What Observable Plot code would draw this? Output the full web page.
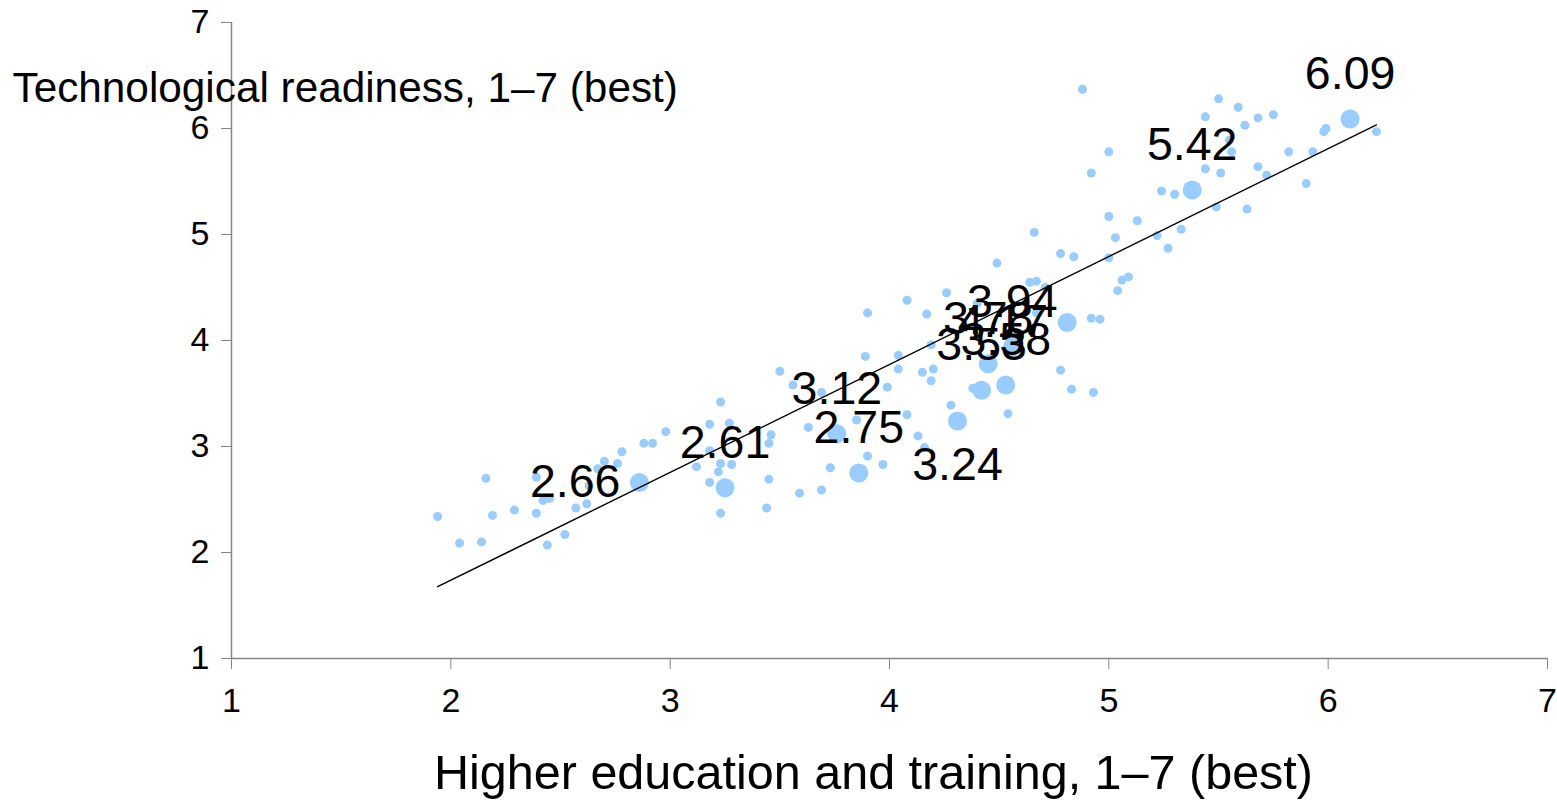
<!DOCTYPE html>
<html>
<head>
<meta charset="utf-8">
<script src="https://cdn.jsdelivr.net/npm/d3@7"></script>
<script src="https://cdn.jsdelivr.net/npm/@observablehq/plot@0.6"></script>
<style>
  html, body { margin: 0; padding: 0; background: #fff; }
  svg { display: block; }
</style>
</head>
<body>
<div id="chart"></div>
<script>
// ---------- data ----------
const xTicks = [1, 2, 3, 4, 5, 6, 7];
const yTicks = [1, 2, 3, 4, 5, 6, 7];
const xTitle = "Higher education and training, 1–7 (best)";
const yTitle = "Technological readiness, 1–7 (best)";

// all economies (small dots)
const smallX = [1.94,2.16,2.04,2.14,2.19,2.29,2.39,2.39,2.42,2.45,2.44,2.52,2.57,2.62,2.63,2.67,2.70,2.76,2.78,2.88,
  2.92,2.98,3.23,3.18,3.27,3.46,3.45,3.63,3.18,3.12,3.23,3.28,3.22,3.18,3.45,3.23,3.44,3.59,3.69,3.56,
  3.50,3.69,3.89,3.85,3.90,3.73,
  4.66,4.78,4.84,4.49,4.26,4.08,3.90,4.17,4.40,4.64,4.67,4.71,4.92,4.96,4.04,4.04,4.19,4.15,4.20,4.19,
  3.99,4.38,4.78,4.83,4.93,4.28,4.54,4.08,4.13,4.16,3.97,5.00,5.04,4.62,4.67,
  4.88,5.50,5.59,5.44,5.00,4.92,5.55,5.56,5.44,5.51,5.24,5.30,5.49,5.00,5.13,5.33,5.03,5.22,5.27,5.09,
  5.06,5.68,5.75,5.62,5.99,5.98,6.22,5.82,5.93,5.68,5.72,5.90,5.63];
const smallY = [2.34,2.70,2.09,2.10,2.35,2.40,2.71,2.37,2.49,2.51,2.07,2.17,2.42,2.46,2.63,2.79,2.86,2.84,2.95,3.03,
  3.03,3.14,3.42,3.21,3.22,3.11,3.03,3.18,2.96,2.81,2.84,2.83,2.76,2.66,2.69,2.37,2.42,2.56,2.59,3.58,
  3.71,3.51,3.85,3.25,2.91,2.80,
  5.02,4.82,4.79,4.73,4.45,4.38,4.26,4.25,4.35,4.55,4.56,4.50,4.21,4.20,3.86,3.73,3.96,3.70,3.73,3.62,
  3.56,3.55,3.72,3.54,3.51,3.39,3.31,3.30,3.10,2.99,2.83,4.78,4.47,4.36,4.26,
  6.37,6.28,6.20,6.11,5.78,5.58,5.89,5.78,5.62,5.58,5.41,5.38,5.26,5.17,5.13,5.05,4.97,4.99,4.87,4.60,
  4.57,6.10,6.13,6.03,6.00,5.97,5.97,5.78,5.78,5.64,5.56,5.48,5.24];

// highlighted economies (large dots with value labels)
const bigX = [2.86, 3.25, 3.76, 3.86, 4.31, 4.45, 4.42, 4.53, 4.56, 4.81, 5.38, 6.10];
const bigY = [2.66, 2.61, 3.12, 2.75, 3.24, 3.78, 3.53, 3.58, 3.94, 4.17, 5.42, 6.09];
const bigLabels = ["2.66", "2.61", "3.12", "2.75", "3.24", "3.78", "3.53", "3.58", "3.94", "4.17", "5.42", "6.09"];

// ---------- build tables ----------
const small = smallX.map((x, i) => ({x, y: smallY[i]}));
const big = bigX.map((x, i) => ({x, y: bigY[i], label: bigLabels[i]}));
const all = small.concat(big);

// label placement (layout, not data)
const placeLeft = new Set(["2.66", "4.17"]);
const placeBelow = new Set(["3.24"]);
const above = big.filter(d => !placeLeft.has(d.label) && !placeBelow.has(d.label));
const left = big.filter(d => placeLeft.has(d.label));
const below = big.filter(d => placeBelow.has(d.label));

const axisGray = "#868686";
const dotBlue = "#99ccff";
const font = "'Liberation Sans', Arial, Helvetica, sans-serif";

const chart = Plot.plot({
  width: 1557,
  height: 801,
  marginLeft: 231,
  marginRight: 10,
  marginTop: 22,
  marginBottom: 143,
  style: {fontFamily: font, background: "#fff", color: "#000"},
  x: {domain: [1, 7]},
  y: {domain: [1, 7]},
  marks: [
    Plot.ruleX([1], {stroke: axisGray, strokeWidth: 1.5}),
    Plot.ruleY([1], {stroke: axisGray, strokeWidth: 1.5}),
    Plot.axisX({ticks: xTicks, tickSize: 11, tickPadding: 18, fontSize: 34, stroke: axisGray, fill: "#000", label: null, tickFormat: d => String(d)}),
    Plot.axisY({ticks: yTicks, tickSize: 10, tickPadding: 12, fontSize: 34, stroke: axisGray, fill: "#000", label: null, tickFormat: d => String(d)}),
    Plot.dot(small, {x: "x", y: "y", r: 4.5, fill: dotBlue}),
    Plot.dot(big, {x: "x", y: "y", r: 9.5, fill: dotBlue}),
    Plot.linearRegressionY(all, {x: "x", y: "y", stroke: "#000", strokeWidth: 1.4, ci: 0}),
    Plot.text(above, {x: "x", y: "y", text: "label", fontSize: 46.5, dy: -45, lineAnchor: "middle", fill: "#000"}),
    Plot.text(below, {x: "x", y: "y", text: "label", fontSize: 46.5, dy: 44, lineAnchor: "middle", fill: "#000"}),
    Plot.text(left, {x: "x", y: "y", text: "label", fontSize: 46.5, dx: -19, textAnchor: "end", lineAnchor: "middle", fill: "#000"}),
    Plot.text([yTitle], {text: d => d, frameAnchor: "top-left", dx: -219, dy: 66, textAnchor: "start", lineAnchor: "middle", fontSize: 42.3, fill: "#000"}),
    Plot.text([xTitle], {text: d => d, frameAnchor: "bottom", dx: -16, dy: 115, textAnchor: "middle", lineAnchor: "middle", fontSize: 48.5, fill: "#000"})
  ]
});
document.getElementById("chart").appendChild(chart);
</script>
</body>
</html>
